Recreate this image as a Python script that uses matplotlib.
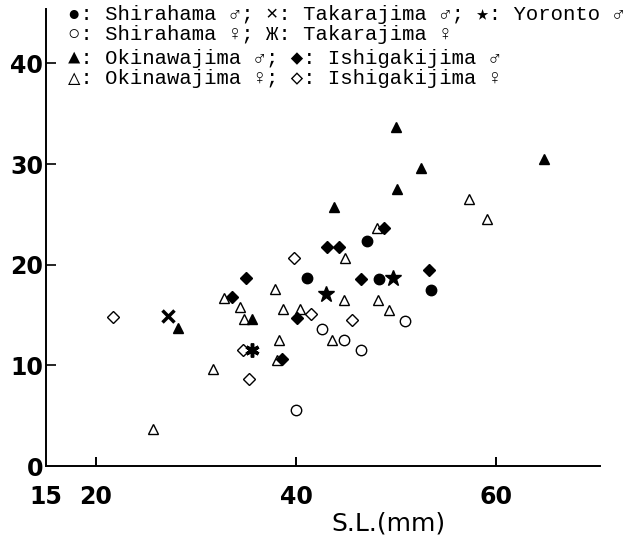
import numpy as np
import matplotlib
matplotlib.use('Agg')
import matplotlib.pyplot as plt

# body size (S.L., mm) vs. value
shira_m_x = [41.1, 47.1, 48.3, 53.5]
shira_m_y = [18.7, 22.4, 18.6, 17.5]
shira_f_x = [40.0, 42.6, 44.8, 46.5, 50.9]
shira_f_y = [5.6, 13.6, 12.5, 11.5, 14.4]
taka_m_x = [27.2]
taka_m_y = [14.9]
taka_f_x = [35.6]
taka_f_y = [11.5]
yoron_m_x = [43.0, 49.7]
yoron_m_y = [17.1, 18.7]
oki_m_x = [28.2, 35.6, 43.8, 50.1, 50.0, 52.5, 64.8]
oki_m_y = [13.7, 14.6, 25.7, 27.5, 33.7, 29.6, 30.5]
oki_f_x = [25.7, 31.7, 32.8, 34.4, 34.8, 37.9, 38.1, 38.3, 38.7, 40.4,
           43.6, 44.8, 44.9, 48.1, 48.2, 49.3, 57.3, 59.1]
oki_f_y = [3.7, 9.6, 16.7, 15.8, 14.6, 17.6, 10.5, 12.5, 15.6, 15.6,
           12.5, 16.5, 20.7, 23.6, 16.5, 15.5, 26.5, 24.5]
ishi_m_x = [33.6, 35.0, 38.6, 40.1, 43.1, 44.3, 46.5, 48.8, 53.3]
ishi_m_y = [16.8, 18.7, 10.6, 14.7, 21.8, 21.8, 18.6, 23.6, 19.5]
ishi_f_x = [21.7, 34.7, 35.3, 39.8, 41.5, 45.6]
ishi_f_y = [14.8, 11.5, 8.6, 20.7, 15.1, 14.5]

xticks = [15, 20, 40, 60]
yticks = [0, 10, 20, 30, 40]

legend_rows = [
    '\u25cf: Shirahama \u2642; \u00d7: Takarajima \u2642; \u2605: Yoronto \u2642',
    '\u25cb: Shirahama \u2640; \u0416: Takarajima \u2640',
    '\u25b2: Okinawajima \u2642; \u25c6: Ishigakijima \u2642',
    '\u25b3: Okinawajima \u2640; \u25c7: Ishigakijima \u2640',
]

W, H = 637, 538
fig = plt.figure(figsize=(W / 100, H / 100), dpi=100)
ax = fig.add_axes([46 / W, 1 - 466 / H, 554 / W, 457 / H])

ms = 7.5
ax.plot(oki_f_x, oki_f_y, '^', ms=ms, mfc='white', mec='black', mew=1.0, ls='none')
ax.plot(shira_f_x, shira_f_y, 'o', ms=ms, mfc='white', mec='black', mew=1.0, ls='none')
ax.plot(ishi_f_x, ishi_f_y, 'D', ms=6.5, mfc='white', mec='black', mew=1.0, ls='none')
ax.plot(oki_m_x, oki_m_y, '^', ms=ms, color='black', ls='none')
ax.plot(shira_m_x, shira_m_y, 'o', ms=ms, color='black', ls='none')
ax.plot(ishi_m_x, ishi_m_y, 'D', ms=6.5, color='black', ls='none')
ax.plot(yoron_m_x, yoron_m_y, '*', ms=12, color='black', ls='none')
ax.plot(taka_m_x, taka_m_y, 'x', ms=8, mew=2.5, color='black', ls='none')
ax.plot(taka_f_x, taka_f_y, marker=(6, 2, 0), ms=10, mew=2.5, color='black', ls='none')

ax.set_xlim(15, 70.4)
ax.set_ylim(0, 45.4)
for s in ['top', 'right']:
    ax.spines[s].set_visible(False)
for s in ['left', 'bottom']:
    ax.spines[s].set_linewidth(1.4)

ax.set_xticks(xticks)
ax.set_xticklabels([str(v) for v in xticks])
ax.set_yticks(yticks)
ax.set_yticklabels([str(v) for v in yticks])
ax.tick_params(axis='x', direction='in', length=6.5, width=1.4, pad=14)
ax.tick_params(axis='y', direction='in', length=7, width=1.2, pad=2)
for lab in ax.get_xticklabels() + ax.get_yticklabels():
    lab.set_fontsize(17)
    lab.set_fontweight('bold')
# the origin labels carry no tick mark
ax.xaxis.get_major_ticks()[0].tick1line.set_visible(False)
ax.yaxis.get_major_ticks()[0].tick1line.set_visible(False)

fig.text(388 / W, 1 - 523 / H, 'S.L.(mm)', fontsize=18, ha='center', va='center')

row_y = [14, 34, 59, 79]
for txt, yy in zip(legend_rows, row_y):
    fig.text(68 / W, 1 - yy / H, txt, fontsize=14.9, ha='left', va='center',
             family=['Liberation Mono', 'DejaVu Sans Mono', 'DejaVu Sans'])

fig.savefig('out.png', dpi=100)
